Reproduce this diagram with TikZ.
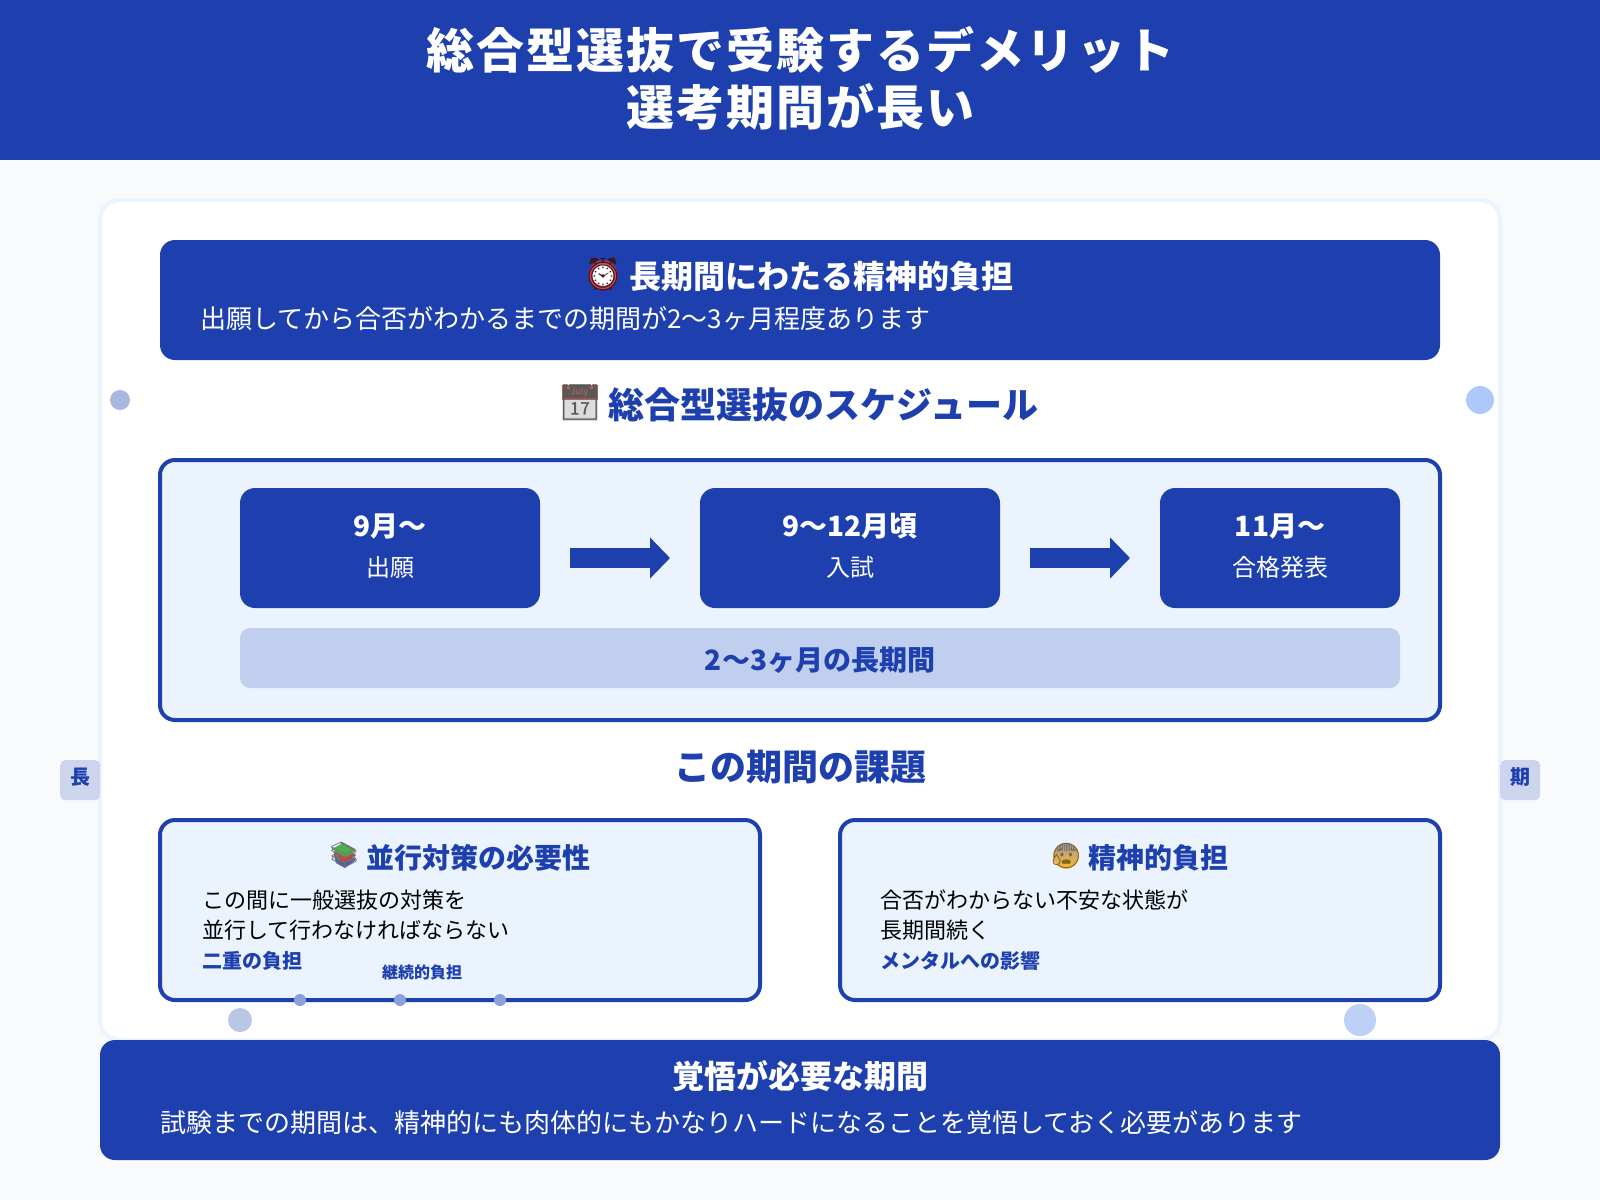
\documentclass[tikz,border=0pt]{standalone}
\usepackage{fontspec}
\usetikzlibrary{arrows.meta}
\setmainfont{Noto Sans CJK JP}
\newfontfamily\emo{Noto Emoji}
\definecolor{navy}{HTML}{1E40AF}
\definecolor{pale}{HTML}{EBF3FF}
\definecolor{pageb}{HTML}{F8FAFC}
\definecolor{edgec}{HTML}{EBF3FF}
\definecolor{barc}{HTML}{C0CFEE}
\definecolor{tagc}{HTML}{CDD5EE}
\definecolor{dota}{HTML}{A8B8E0}
\definecolor{dotb}{HTML}{ADC8FA}
\definecolor{dotc}{HTML}{8B9FD8}
\definecolor{dotd}{HTML}{BBC6E5}
\definecolor{dote}{HTML}{BFD0F8}
\definecolor{clockr}{HTML}{D9434E}
\definecolor{calr}{HTML}{B25F60}
\definecolor{calg}{HTML}{DCDCDC}
\definecolor{bookg}{HTML}{4CAF50}
\definecolor{bookr}{HTML}{D93A2B}
\definecolor{bookb}{HTML}{4A5FA8}
\definecolor{facey}{HTML}{F7B733}
\definecolor{faceb}{HTML}{7F93D6}
\newcommand{\fs}[1]{\fontsize{#1}{#1}\selectfont}
\tikzset{
  x=1pt,y=-1pt,
  boxn/.style={rectangle,inner sep=0,outer sep=0,anchor=north west,fill=navy,rounded corners=15pt},
  card/.style={rectangle,inner sep=0,outer sep=0,anchor=north west,fill=pale,draw=navy,line width=4pt,rounded corners=15pt},
  tagbox/.style={rectangle,inner sep=0,anchor=north west,fill=tagc,rounded corners=5pt,minimum width=40pt,minimum height=40pt},
  dot/.style={circle,inner sep=0,outer sep=0,anchor=center},
  lb/.style={inner sep=0,outer sep=0,anchor=base},
  ll/.style={inner sep=0,outer sep=0,anchor=base west},
  emoj/.style={inner sep=0,outer sep=0,anchor=center},
  flow/.style={navy,line width=20pt,-{Triangle[length=20pt,width=40pt]},shorten <=30pt,shorten >=30pt},
}
\begin{document}
\begin{tikzpicture}
\useasboundingbox (0,0) rectangle (1600,1200);
\fill[pageb] (0,0) rectangle (1600,1200);
% header
\fill[navy] (0,0) rectangle (1600,160);
\node[lb,text=white,font=\fs{48}\bfseries\addfontfeature{LetterSpace=4.17}] (t1) at (801,68) {総合型選抜で受験するデメリット};
\node[lb,text=white,font=\fs{48}\bfseries\addfontfeature{LetterSpace=4.17}] (t2) at (800.5,125) {選考期間が長い};
% panel
\node[rectangle,inner sep=0,outer sep=0,anchor=north west,fill=white,draw=edgec,line width=4pt,rounded corners=20pt,minimum width=1400pt,minimum height=840pt] (panel) at (100,200) {};
% top notice
\node[boxn,minimum width=1280pt,minimum height=120pt] (notice) at (160,240) {};
\fill[clockr] (603,275) circle (14.5);
\fill[white] (603,275) circle (11);
\node[emoj,text=black!70!clockr,font=\emo\fs{33}] (noticeE) at (603,274) {⏰};
\node[lb,text=white,font=\fs{32}\bfseries] (noticeT) at (821,288) {長期間にわたる精神的負担};
\node[ll,text=white,font=\fs{26}] (noticeS) at (200,328) {出願してから合否がわかるまでの期間が2〜3ヶ月程度あります};
% schedule
\fill[calg] (562,385) rectangle (598,421);
\fill[calr] (562,385) rectangle (598,400);
\node[emoj,text=black!65,font=\emo\fs{35}] (schedE) at (580,403) {📅};
\node[lb,text=navy,font=\fs{36}\bfseries] (schedT) at (823.5,418) {総合型選抜のスケジュール};
\node[card,minimum width=1280pt,minimum height=260pt] (sched) at (160,460) {};
\node[boxn,minimum width=300pt,minimum height=120pt] (s1) at (240,488) {};
\node[boxn,minimum width=300pt,minimum height=120pt] (s2) at (700,488) {};
\node[boxn,minimum width=240pt,minimum height=120pt] (s3) at (1160,488) {};
\draw[flow] ([yshift=-10pt]s1.east) -- ([yshift=-10pt]s2.west);
\draw[flow] ([yshift=-10pt]s2.east) -- ([yshift=-10pt]s3.west);
\node[lb,text=white,font=\fs{28}\bfseries] (s1a) at (390,536) {9月〜};
\node[lb,text=white,font=\fs{24}] (s1b) at (390,576) {出願};
\node[lb,text=white,font=\fs{28}\bfseries] (s2a) at (850,536) {9〜12月頃};
\node[lb,text=white,font=\fs{24}] (s2b) at (850,576) {入試};
\node[lb,text=white,font=\fs{28}\bfseries] (s3a) at (1280,536) {11月〜};
\node[lb,text=white,font=\fs{24}] (s3b) at (1280,576) {合格発表};
\node[rectangle,inner sep=0,outer sep=0,anchor=north west,fill=barc,rounded corners=10pt,minimum width=1160pt,minimum height=60pt] (bar) at (240,628) {};
\node[lb,text=navy,font=\fs{28}\bfseries] (barT) at (820,670) {2〜3ヶ月の長期間};
% issues
\node[lb,text=navy,font=\fs{36}\bfseries] (issT) at (800,780) {この期間の課題};
\node[card,minimum width=600pt,minimum height=180pt] (c1) at (160,820) {};
\node[card,minimum width=600pt,minimum height=180pt] (c2) at (840,820) {};
\fill[bookb] (334,855) -- (344,852) -- (356,860) -- (345,868) -- (336,863) -- cycle;
\fill[bookr] (335,850) -- (346,849) -- (356,855) -- (345,863) -- (335,857) -- cycle;
\fill[bookg] (332,849) -- (343,843) -- (356,851) -- (345,857) -- cycle;
\node[emoj,text=black!55,font=\emo\fs{25}] (c1E) at (344,855) {📚};
\node[lb,text=navy,font=\fs{28}\bfseries] (c1T) at (478.5,868) {並行対策の必要性};
\node[ll,font=\fs{22}] (c1a) at (202,908) {この間に一般選抜の対策を};
\node[ll,font=\fs{22}] (c1b) at (202,938) {並行して行わなければならない};
\node[ll,text=navy,font=\fs{20}\bfseries] (c1c) at (202,968) {二重の負担};
\node[lb,text=navy,font=\fs{16}\bfseries] (c1d) at (422,978) {継続的負担};
\shade[top color=faceb,bottom color=facey,middle color=facey!70!faceb] (1066,856) circle (13);
\node[emoj,text=black!45!facey,font=\emo\fs{25}] (c2E) at (1066,856) {😰};
\node[lb,text=navy,font=\fs{28}\bfseries] (c2T) at (1158,868) {精神的負担};
\node[ll,font=\fs{22}] (c2a) at (880,908) {合否がわからない不安な状態が};
\node[ll,font=\fs{22}] (c2b) at (880,938) {長期間続く};
\node[ll,text=navy,font=\fs{20}\bfseries] (c2c) at (880,968) {メンタルへの影響};
% dots
\node[dot,fill=dota,minimum size=20pt] (d1) at (120,400) {};
\node[dot,fill=dotb,minimum size=28pt] (d2) at (1480,400) {};
\node[dot,fill=dotc,minimum size=12pt] (d3) at (300,1000) {};
\node[dot,fill=dotc,minimum size=12pt] (d4) at (400,1000) {};
\node[dot,fill=dotc,minimum size=12pt] (d5) at (500,1000) {};
\node[dot,fill=dotd,minimum size=24pt] (d6) at (240,1020) {};
\node[dot,fill=dote,minimum size=32pt] (d7) at (1360,1020) {};
% side tags
\node[tagbox] (tagL) at (60,760) {};
\node[lb,text=navy,font=\fs{20}\bfseries] (tagLt) at (80,784) {長};
\node[tagbox] (tagR) at (1500,760) {};
\node[lb,text=navy,font=\fs{20}\bfseries] (tagRt) at (1520,784) {期};
% bottom
\node[boxn,minimum width=1400pt,minimum height=120pt] (foot) at (100,1040) {};
\node[lb,text=white,font=\fs{32}\bfseries] (footT) at (800,1088) {覚悟が必要な期間};
\node[ll,text=white,font=\fs{26}] (footS) at (160,1132) {試験までの期間は、精神的にも肉体的にもかなりハードになることを覚悟しておく必要があります};
\end{tikzpicture}
\end{document}
